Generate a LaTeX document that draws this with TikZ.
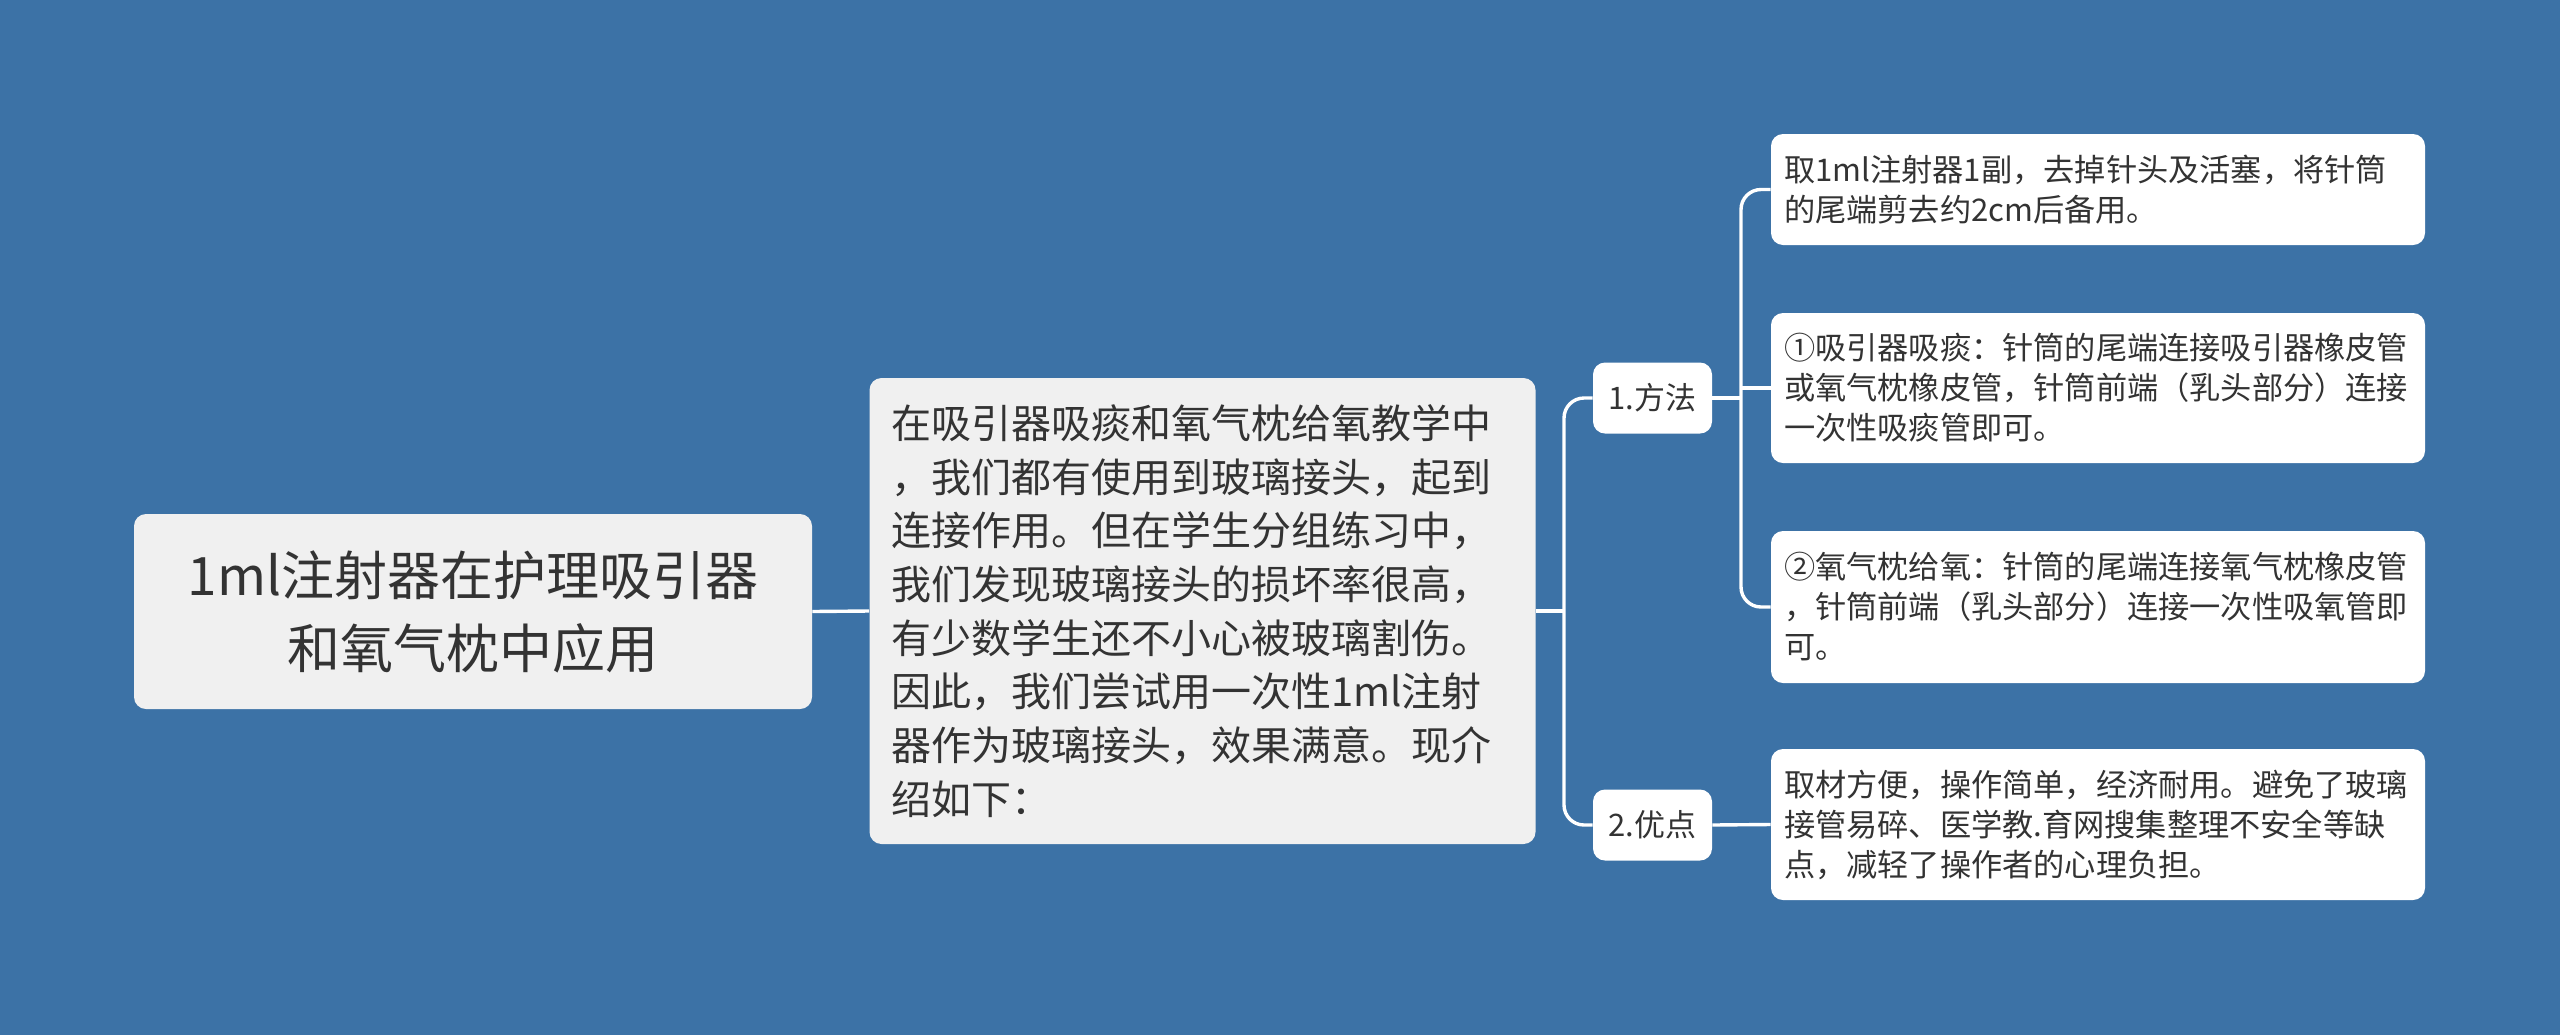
\documentclass[tikz,border=0pt]{standalone}
\usepackage{fontspec}
\newfontfamily\cjk{Noto Sans CJK SC}

\definecolor{bgblue}{HTML}{3C72A6}
\definecolor{boxgrey}{HTML}{F0F0F0}
\definecolor{inkgrey}{HTML}{333333}

\tikzset{
    box/.style={rounded corners=6pt, inner ysep=0pt, text=inkgrey},
    topicbox/.style={box, fill=boxgrey, align=center, inner xsep=0pt,
        minimum width=339pt, minimum height=97.5pt,
        font=\cjk\fontsize{26.5pt}{36.5pt}\selectfont},
    introbox/.style={box, fill=boxgrey, align=left, text width=311.5pt,
        inner xsep=10.75pt, minimum height=233pt,
        font=\cjk\fontsize{20pt}{26.85pt}\selectfont},
    headbox/.style={box, fill=white, align=center, inner xsep=0pt,
        minimum width=59.5pt, minimum height=35.5pt,
        font=\cjk\fontsize{15.5pt}{20pt}\selectfont},
    leafbox/.style={box, fill=white, align=left, text width=314pt,
        inner xsep=6.5pt, font=\cjk\fontsize{15.6pt}{20pt}\selectfont},
    link/.style={white, line width=1.7pt, rounded corners=10pt}
}

\begin{document}
\begin{tikzpicture}[x=0.5pt, y=-0.5pt]

    \fill [bgblue] (0,0) rectangle (2560,1035);

    \node [topicbox] (root) at (473,611.5) {1ml注射器在护理吸引器\\和氧气枕中应用};

    \node [introbox] (intro) at (1202.5,611) {在吸引器吸痰和氧气枕给氧教学中\\
        ，我们都有使用到玻璃接头，起到\\
        连接作用。但在学生分组练习中，\\
        我们发现玻璃接头的损坏率很高，\\
        有少数学生还不小心被玻璃割伤。\\
        因此，我们尝试用一次性1ml注射\\
        器作为玻璃接头，效果满意。现介\\
        绍如下：};

    \node [headbox] (method) at (1652.5,398) {1.方法};
    \node [headbox] (merit) at (1652.5,825) {2.优点};

    \node [leafbox, minimum height=55.5pt] (cut) at (2098,189.5)
        {取1ml注射器1副，去掉针头及活塞，将针筒\\的尾端剪去约2cm后备用。};
    \node [leafbox, minimum height=75pt] (suction) at (2098,388)
        {①吸引器吸痰：针筒的尾端连接吸引器橡皮管\\或氧气枕橡皮管，针筒前端（乳头部分）连接\\一次性吸痰管即可。};
    \node [leafbox, minimum height=76pt] (oxygen) at (2098,607)
        {②氧气枕给氧：针筒的尾端连接氧气枕橡皮管\\，针筒前端（乳头部分）连接一次性吸氧管即\\可。};
    \node [leafbox, minimum height=75.5pt] (gain) at (2098,824.5)
        {取材方便，操作简单，经济耐用。避免了玻璃\\接管易碎、医学教.育网搜集整理不安全等缺\\点，减轻了操作者的心理负担。};

    \coordinate (fork) at (1564,611);
    \coordinate (split) at (1741,398);

    \draw [link] (root.east) -- (intro.west);
    \draw [link] (intro.east) -- (fork);
    \draw [link] (method.west) -| (fork) |- (merit.west);
    \draw [link] (method.east) -- (split);
    \draw [link] (cut.west) -| (split) |- (oxygen.west);
    \draw [link] (suction.west) -- (suction.west -| split);
    \draw [link] (merit.east) -- (gain.west);

\end{tikzpicture}
\end{document}
